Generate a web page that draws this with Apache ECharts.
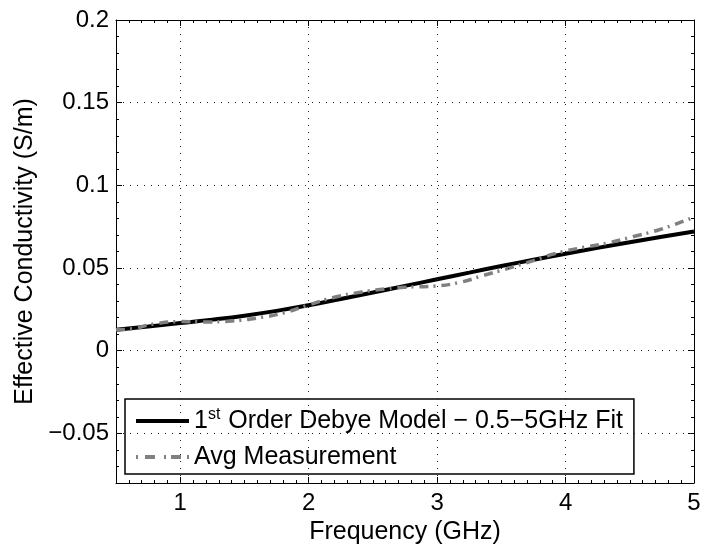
<!DOCTYPE html>
<html><head><meta charset="utf-8">
<script src="https://cdn.jsdelivr.net/npm/echarts@6/dist/echarts.min.js"></script>
<style>html,body{margin:0;padding:0;background:#fff;overflow:hidden}#c{width:701px;height:545px}</style>
</head><body><div id="c"></div>
<script>
const fitX = [0.5,0.75,1.0,1.25,1.5,1.75,2.0,2.25,2.5,2.75,3.0,3.25,3.5,3.75,4.0,4.25,4.5,4.75,5.0];
const fitY = [0.0127,0.0146,0.0167,0.0188,0.0212,0.0241,0.0275,0.0313,0.0352,0.0392,0.0432,0.0472,0.0512,0.0550,0.0586,0.0622,0.0656,0.0689,0.0721];
const measX = [0.5,0.6,0.8,1.0,1.2,1.4,1.6,1.8,2.0,2.2,2.4,2.6,2.75,2.97,3.18,3.36,3.54,3.75,3.93,4.12,4.32,4.53,4.71,4.92,5.0];
const measY = [0.0127,0.0131,0.0162,0.0176,0.0174,0.0180,0.0198,0.0228,0.0277,0.0323,0.0353,0.0374,0.0384,0.0390,0.0414,0.0455,0.0495,0.0545,0.0590,0.0622,0.0650,0.0691,0.0727,0.0784,0.0808];
const xTicks = [1, 2, 3, 4, 5];
const yTicks = [-0.05, 0, 0.05, 0.1, 0.15, 0.2];
const fitName = '1st Order Debye Model \u2212 0.5\u22125GHz Fit';
const measName = 'Avg Measurement';
const xTitle = 'Frequency (GHz)';
const yTitle = 'Effective Conductivity (S/m)';
const xMin = 0.5, xMax = 5, yMin = -0.08, yMax = 0.2;

const FONT = 'Liberation Sans, Arial, Helvetica, sans-serif';
const fmtNum = v => {
  const r = Math.round(v * 1000) / 1000;
  const s = String(Math.abs(r));
  return (r < 0 ? '\u2212' : '') + s;
};
function majorX(pos, show) {
  return {
    type: 'value', position: pos, min: xMin, max: xMax, interval: 0.5,
    axisLine: {show: true, onZero: false, lineStyle: {color: '#000', width: 1}},
    axisTick: {show: true, inside: true, length: 6, customValues: xTicks, lineStyle: {color: '#000'}},
    axisLabel: {show: show, customValues: xTicks, color: '#000', fontFamily: FONT, fontSize: 24, margin: 8, formatter: fmtNum},
    splitLine: {show: false},
    name: show ? xTitle : '', nameLocation: 'middle', nameGap: 28,
    nameTextStyle: {color: '#000', fontFamily: FONT, fontSize: 25}
  };
}
function minorX(pos) {
  return {
    type: 'value', position: pos, min: xMin, max: xMax, interval: 0.5,
    axisLine: {show: false, onZero: false},
    axisTick: {show: true, inside: true, length: 3, lineStyle: {color: '#000', width: 1}},
    minorTick: {show: true, splitNumber: 5, length: 3, lineStyle: {color: '#000', width: 1}},
    axisLabel: {show: false}, splitLine: {show: false}, minorSplitLine: {show: false}
  };
}
function majorY(pos, show) {
  return {
    type: 'value', position: pos, min: yMin, max: yMax, interval: 0.01,
    axisLine: {show: true, onZero: false, lineStyle: {color: '#000', width: 1}},
    axisTick: {show: true, inside: true, length: 6, customValues: yTicks, lineStyle: {color: '#000'}},
    axisLabel: {show: show, customValues: yTicks, color: '#000', fontFamily: FONT, fontSize: 24, margin: 7, formatter: fmtNum},
    splitLine: {show: false},
    name: show ? yTitle : '', nameLocation: 'middle', nameGap: 76, nameRotate: 90,
    nameTextStyle: {color: '#000', fontFamily: FONT, fontSize: 25}
  };
}
function minorY(pos) {
  return {
    type: 'value', position: pos, min: yMin, max: yMax, interval: 0.04,
    axisLine: {show: false, onZero: false},
    axisTick: {show: true, inside: true, length: 3, lineStyle: {color: '#000', width: 1}},
    minorTick: {show: true, splitNumber: 4, length: 3, lineStyle: {color: '#000', width: 1}},
    axisLabel: {show: false}, splitLine: {show: false}, minorSplitLine: {show: false}
  };
}
const gridLineStyle = {color: '#222', type: [1, 6], width: 1};
const gridMarks = xTicks.filter(v => v < xMax).map(v => ({xAxis: v}))
  .concat(yTicks.filter(v => v < yMax).map(v => ({yAxis: v})));

const chart = echarts.init(document.getElementById('c'), null, {renderer: 'canvas'});
chart.setOption({
  animation: false,
  backgroundColor: '#fff',
  grid: {left: 116, right: 7, top: 20, bottom: 62, containLabel: false, outerBoundsMode: 'none'},
  xAxis: [majorX('bottom', true), minorX('bottom'), majorX('top', false), minorX('top')],
  yAxis: [majorY('left', true), minorY('left'), majorY('right', false), minorY('right')],
  legend: {
    orient: 'vertical', left: 125, top: 399,
    backgroundColor: '#fff', borderColor: '#000', borderWidth: 1.5, borderRadius: 0,
    padding: [8, 11, 3, 11], itemGap: 8, itemWidth: 53, itemHeight: 4, itemTextGap: 6,
    data: [
      {name: fitName, icon: 'rect', itemStyle: {color: '#000'}},
      {name: measName, icon: 'path://M0,0h2v4h-2z M9,0h10v4h-10z M28,0h2v4h-2z M35,0h10v4h-10z M51,0h2v4h-2z', itemStyle: {color: '#808080'}}
    ],
    textStyle: {color: '#000', fontFamily: FONT, fontSize: 25, lineHeight: 28,
      rich: {sup: {fontSize: 16, verticalAlign: 'top', lineHeight: 28, fontFamily: FONT, color: '#000', padding: [0, 1, 0, 0]},
             n: {fontSize: 25, lineHeight: 28, fontFamily: FONT, color: '#000'}}},
    formatter: name => name === fitName ? '{n|1}{sup|st}{n|' + name.slice(3) + '}' : name
  },
  series: [
    {name: 'grid', type: 'line', xAxisIndex: 0, yAxisIndex: 0, data: [], z: 1,
     markLine: {silent: true, symbol: 'none', label: {show: false}, animation: false,
       lineStyle: gridLineStyle, emphasis: {disabled: true}, data: gridMarks}},
    {name: fitName, type: 'line', xAxisIndex: 0, yAxisIndex: 0, symbol: 'none', smooth: true,
     lineStyle: {color: '#000', width: 4}, itemStyle: {color: '#000'},
     data: fitX.map((x, i) => [x, fitY[i]]), z: 3},
    {name: measName, type: 'line', xAxisIndex: 0, yAxisIndex: 0, symbol: 'none', smooth: true,
     lineStyle: {color: '#808080', width: 3.5, type: [9, 5, 2, 6]}, itemStyle: {color: '#808080'},
     data: measX.map((x, i) => [x, measY[i]]), z: 4}
  ]
});
</script></body></html>
